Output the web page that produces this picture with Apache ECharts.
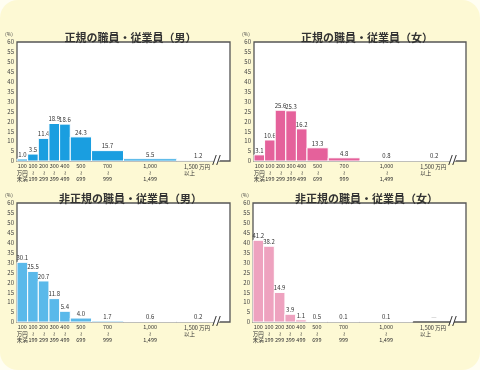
<!DOCTYPE html>
<html><head><meta charset="utf-8">
<script src="https://cdn.jsdelivr.net/npm/echarts@6/dist/echarts.min.js"></script>
<style>html,body{margin:0;padding:0;background:#fffef2}#c{width:480px;height:370px}</style>
</head><body><div id="c"></div>
<script>
// bin edges in units of 100万円
const binEdges = [0, 1, 2, 3, 4, 5, 7, 10, 15, 19];
const xLabels = ['100\n万円\n未満', '100\n≀\n199', '200\n≀\n299', '300\n≀\n399', '400\n≀\n499', '500\n≀\n699', '700\n≀\n999', '1,000\n≀\n1,499', '1,500 万円\n以上'];
const breakAt = 18.8;
const titles = ['正規の職員・従業員（男）', '正規の職員・従業員（女）', '非正規の職員・従業員（男）', '非正規の職員・従業員（女）'];
const menRegular = [1.0, 3.5, 11.4, 18.9, 18.6, 24.3, 15.7, 5.5, 1.2];
const womenRegular = [3.1, 10.6, 25.6, 25.3, 16.2, 13.3, 4.8, 0.8, 0.2];
const menNonRegular = [30.1, 25.5, 20.7, 11.8, 5.4, 4.0, 1.7, 0.6, 0.2];
const womenNonRegular = [41.2, 38.2, 14.9, 3.9, 1.1, 0.5, 0.1, 0.1, null];

const seriesData = [menRegular, womenRegular, menNonRegular, womenNonRegular];
const colors = ['#1a9ee0', '#e5619b', '#5ab9ea', '#eea2bf'];
const grids = [
  {left: 17, top: 42, width: 213, height: 119},
  {left: 254, top: 42, width: 212, height: 119},
  {left: 17, top: 203, width: 213, height: 119},
  {left: 253, top: 203, width: 213, height: 119}
];
const FONT = '"Noto Sans CJK JP", "Noto Sans", sans-serif';

const labelPos = binEdges.slice(0, -1).map((e, i) => i < binEdges.length - 2 ? (e + binEdges[i + 1]) / 2 : 17);
const labelMap = {};
labelPos.forEach((p, i) => { labelMap[p] = xLabels[i]; });

const chart = echarts.init(document.getElementById('c'), null, {renderer: 'canvas'});

const option = {
  backgroundColor: '#fffef2',
  animation: false,
  graphic: [{type: 'rect', shape: {x: 0, y: 0, width: 480, height: 370, r: 18}, style: {fill: '#fdf9d4'}, z: -10}],
  title: titles.map((t, i) => ({
    text: t,
    left: grids[i].left + grids[i].width / 2 + 2,
    top: grids[i].top - 15,
    textAlign: 'center',
    textStyle: {fontFamily: FONT, fontSize: 11, fontWeight: 'bold', color: '#333'}
  })),
  grid: grids.map(g => Object.assign({show: true, backgroundColor: '#fff', borderColor: '#555', borderWidth: 1.3}, g)),
  xAxis: grids.map((g, i) => ({
    type: 'value', gridIndex: i, min: 0, max: 20,
    axisLine: {show: false}, axisTick: {show: false}, splitLine: {show: false},
    axisLabel: {
      customValues: labelPos,
      margin: 2,
      fontFamily: FONT, fontSize: 5.5, lineHeight: 6.5, color: '#333',
      formatter: v => {
        const s = labelMap[v] || '';
        if (s.indexOf('以上') >= 0) {
          const parts = s.split('\n');
          return '{t|' + parts[0] + '}\n{l|' + parts[1] + '}';
        }
        return s;
      },
      rich: {
        t: {width: 28, align: 'left', fontSize: 5.5, lineHeight: 6.5, padding: [2, 0, 0, 0], color: '#333', fontFamily: FONT},
        l: {width: 28, align: 'left', fontSize: 5.5, lineHeight: 6.5, color: '#333', fontFamily: FONT}
      }
    }
  })),
  yAxis: grids.map((g, i) => ({
    type: 'value', gridIndex: i, min: 0, max: 60, interval: 5,
    name: '(%)', nameLocation: 'end', nameGap: 5,
    nameTextStyle: {fontFamily: FONT, fontSize: 5, color: '#444', align: 'right', padding: [0, 4, 0, 0]},
    axisLine: {show: false}, axisTick: {show: false}, splitLine: {show: false},
    axisLabel: {margin: 3, fontFamily: FONT, fontSize: 6, color: '#444'}
  })),
  series: []
};

seriesData.forEach((vals, i) => {
  const data = vals.map((v, k) => [binEdges[k], binEdges[k + 1], v]);
  option.series.push({
    type: 'custom', xAxisIndex: i, yAxisIndex: i, clip: false,
    data: data,
    renderItem: (params, api) => {
      const s = api.value(0), e = api.value(1);
      const raw = vals[params.dataIndex];
      const h = raw == null ? 0 : raw / (e - s);
      const p0 = api.coord([s, h]);
      const p1 = api.coord([e, 0]);
      const top = Math.min(p0[1], p1[1] - 0.5);
      const children = [];
      if (raw != null) {
        children.push({
          type: 'rect',
          shape: {x: p0[0], y: top, width: p1[0] - p0[0], height: p1[1] - top},
          style: {fill: colors[i], stroke: '#fff', lineWidth: 1}
        });
      }
      const cx = (p0[0] + p1[0]) / 2;
      children.push({
        type: 'text',
        style: {
          text: raw == null ? '—' : raw.toFixed(1),
          x: cx, y: top - 1.5, align: 'center', verticalAlign: 'bottom',
          fontFamily: FONT, fontSize: 6, fill: raw == null ? '#aaa' : '#333'
        }
      });
      return {type: 'group', children: children};
    }
  });
  option.series.push({
    type: 'custom', xAxisIndex: i, yAxisIndex: i, clip: false, z: 10,
    data: [[breakAt, 0]],
    renderItem: (params, api) => {
      const p = api.coord([api.value(0), 0]);
      const x = p[0], y = p[1];
      return {
        type: 'group', children: [
          {type: 'polygon', shape: {points: [[x - 3.3, y + 2], [x + 0.3, y + 2], [x + 1.3, y - 2], [x - 2.3, y - 2]]}, style: {fill: '#fff'}},
          {type: 'line', shape: {x1: x - 4.5, y1: y + 4, x2: x - 1, y2: y - 6}, style: {stroke: '#333', lineWidth: 1}},
          {type: 'line', shape: {x1: x - 0.5, y1: y + 4, x2: x + 3, y2: y - 6}, style: {stroke: '#333', lineWidth: 1}}
        ]
      };
    }
  });
});

chart.setOption(option);
</script>
</body></html>
